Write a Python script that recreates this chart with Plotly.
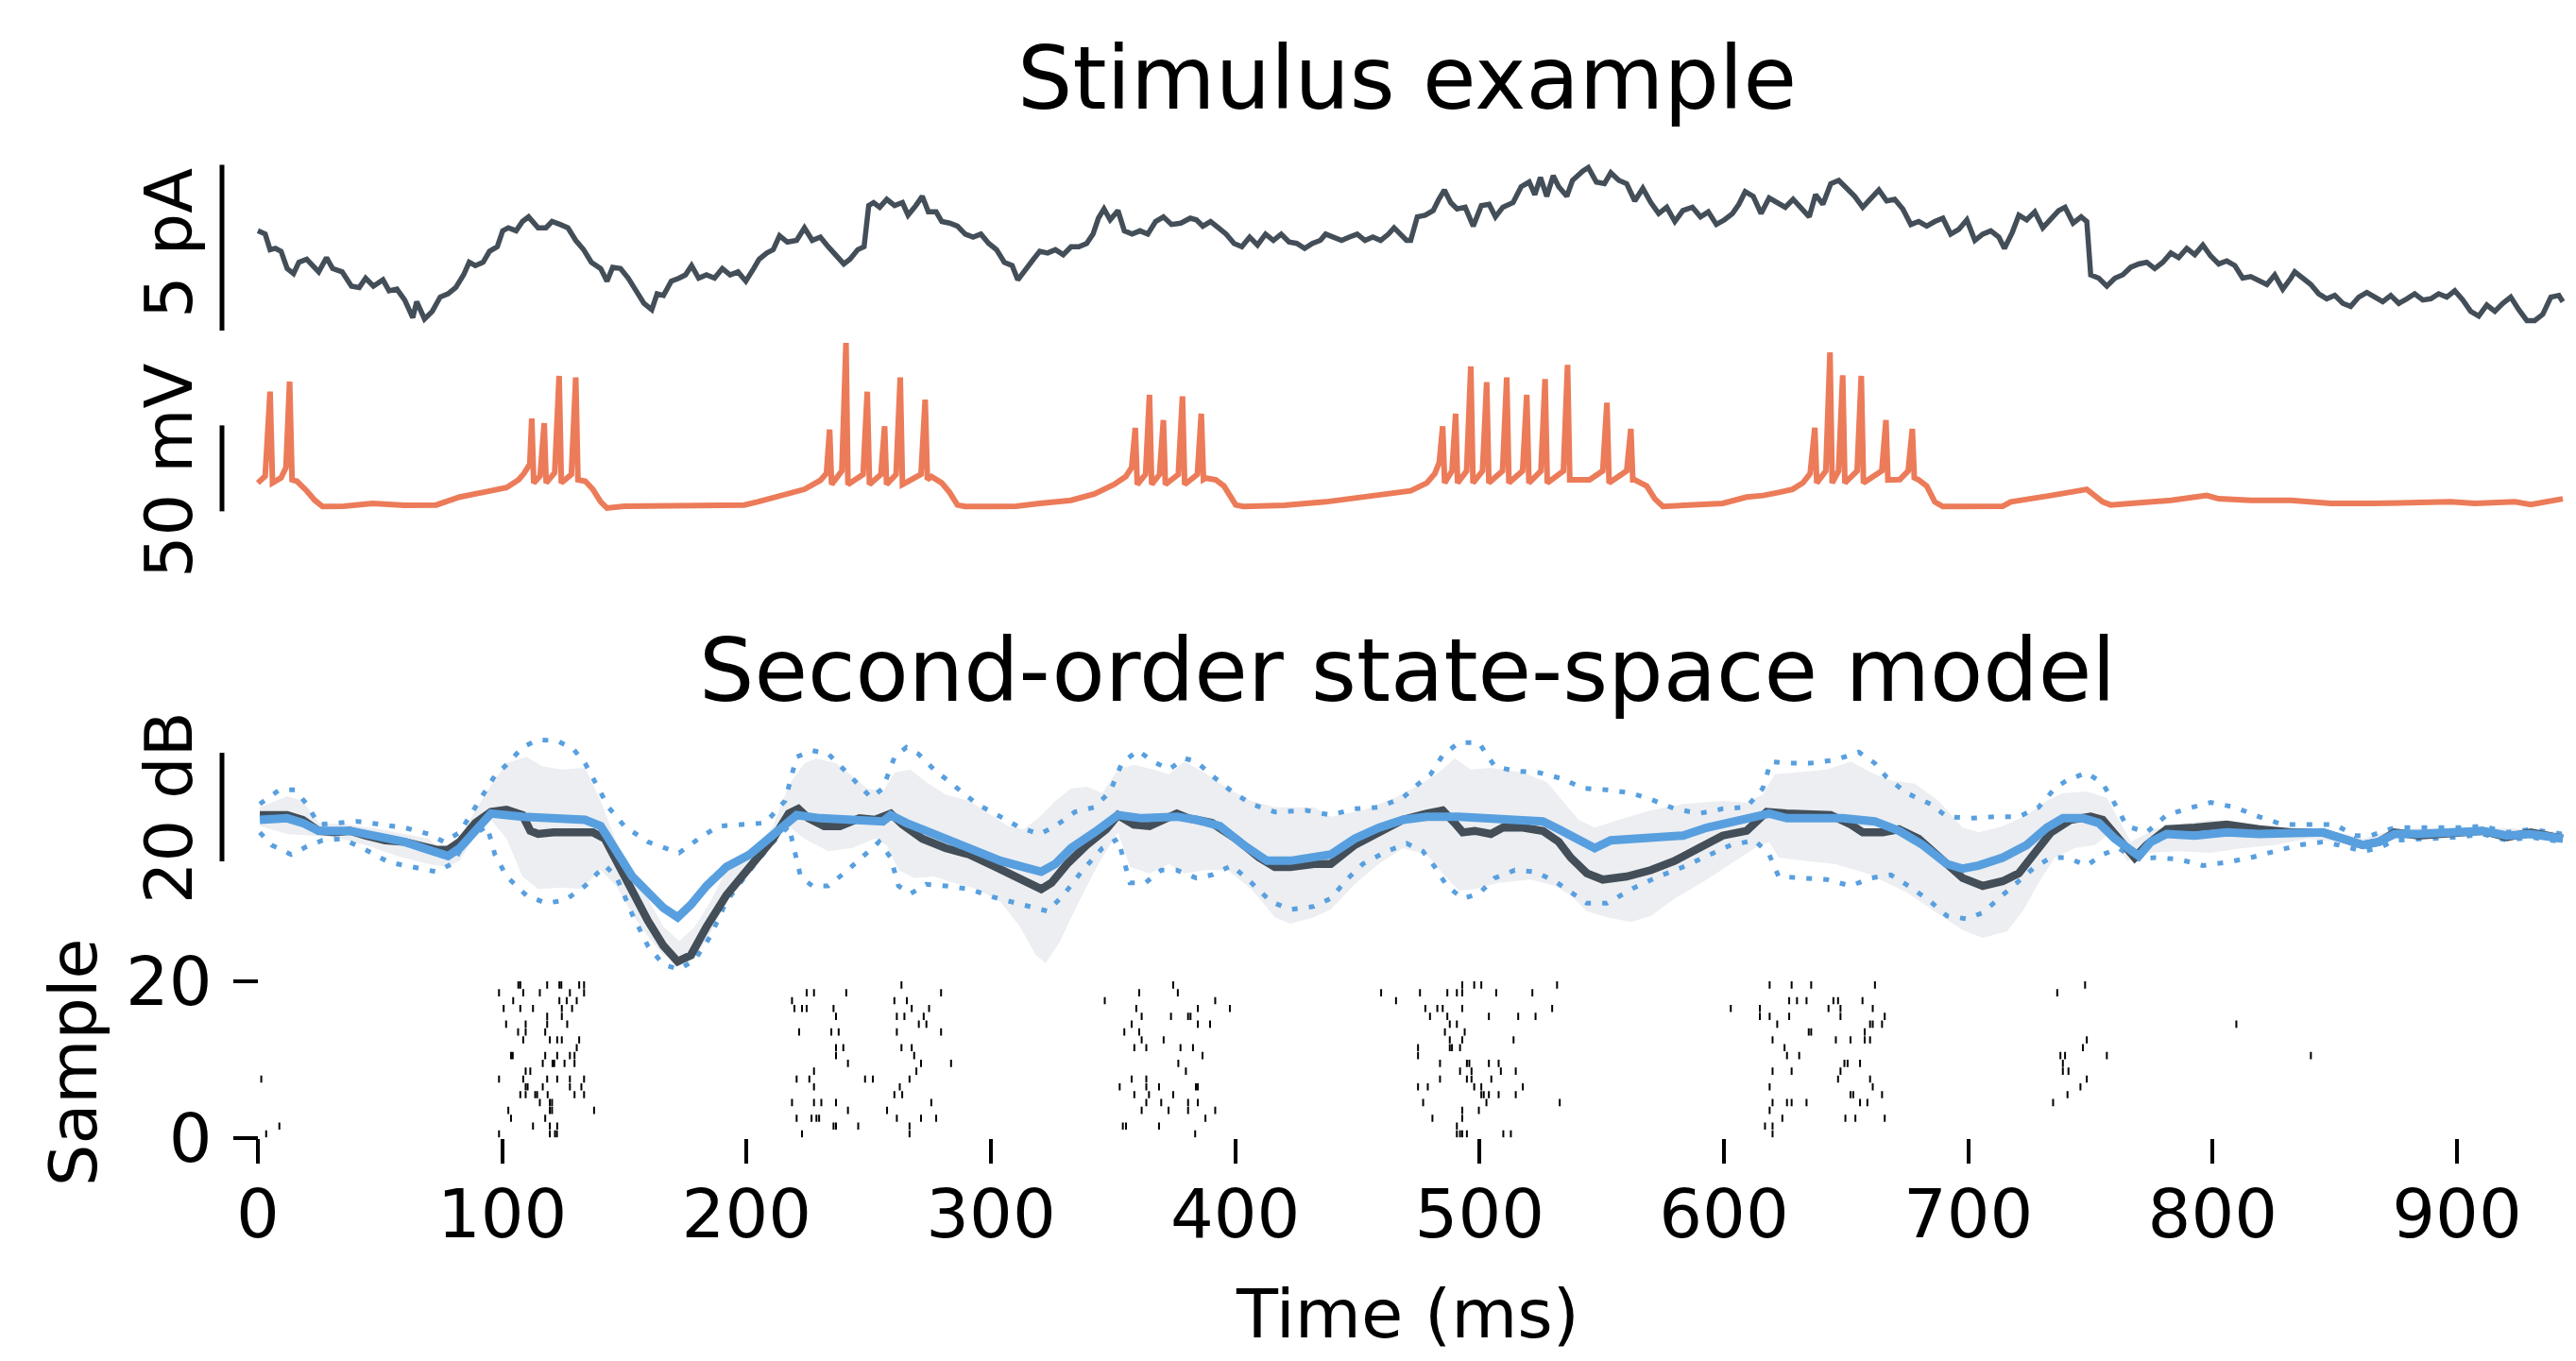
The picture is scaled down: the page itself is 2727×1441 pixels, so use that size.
import plotly.graph_objects as go

# ---------------- data ----------------
# stimulus current (ms, pA)
stim = [(0, 3.01), (3.0, 2.91), (5.0, 2.44), (7.2, 2.48), (9.5, 2.39), (12.0, 1.87), (14.6, 1.72), (16.8, 2.06), (20.0, 2.15), (22.3, 1.96), (24.9, 1.77), (28.1, 2.20), (30.6, 1.87), (34.5, 1.77), (38.3, 1.34), (41.5, 1.30), (44.1, 1.58), (47.3, 1.34), (51.2, 1.53), (53.7, 1.20), (56.9, 1.25), (60.1, 0.92), (63.4, 0.39), (65.0, 0.87), (68.2, 0.35), (71.4, 0.58), (74.6, 1.01), (77.8, 1.11), (81.0, 1.30), (84.2, 1.68), (86.5, 2.06), (89.0, 1.96), (92.2, 2.06), (94.8, 2.39), (98.0, 2.53), (100.2, 3.01), (102.5, 3.10), (105.7, 3.01), (108.3, 3.29), (110.8, 3.43), (114.7, 3.10), (117.9, 3.10), (120.4, 3.29), (123.7, 3.20), (126.9, 3.10), (130.1, 2.72), (133.3, 2.44), (136.5, 2.06), (140.3, 1.87), (142.9, 1.49), (145.2, 1.91), (148.4, 1.87), (151.6, 1.58), (154.8, 1.20), (158.0, 0.82), (161.2, 0.63), (163.4, 1.11), (166.0, 1.06), (169.2, 1.49), (172.4, 1.58), (175.0, 1.68), (177.5, 1.96), (180.4, 1.58), (183.6, 1.68), (186.9, 1.58), (190.1, 1.87), (193.3, 1.68), (196.5, 1.77), (199.7, 1.49), (202.9, 1.87), (205.1, 2.15), (208.3, 2.34), (210.9, 2.44), (213.5, 2.86), (216.7, 2.67), (220.5, 2.72), (223.7, 3.10), (226.9, 2.72), (230.2, 2.82), (233.4, 2.53), (236.6, 2.25), (239.8, 2.01), (242.3, 2.15), (245.5, 2.44), (248.1, 2.53), (250.0, 3.77), (252.0, 3.86), (254.5, 3.72), (257.4, 3.96), (260.6, 3.77), (263.8, 3.86), (266.1, 3.48), (269.3, 3.77), (271.9, 4.05), (274.4, 3.58), (277.6, 3.58), (279.9, 3.29), (283.1, 3.24), (286.3, 3.15), (289.5, 2.91), (292.7, 2.82), (295.9, 2.91), (299.1, 2.63), (302.3, 2.44), (305.5, 2.06), (308.7, 1.96), (311.0, 1.53), (314.2, 1.87), (317.4, 2.15), (320.0, 2.39), (323.2, 2.34), (326.4, 2.44), (329.6, 2.29), (332.8, 2.53), (336.0, 2.53), (339.2, 2.63), (341.8, 2.91), (344.0, 3.39), (346.3, 3.67), (348.8, 3.34), (352.0, 3.62), (354.6, 3.01), (357.8, 2.91), (361.0, 3.01), (364.2, 2.91), (367.4, 3.29), (370.6, 3.43), (373.9, 3.20), (377.7, 3.24), (381.6, 3.39), (384.1, 3.34), (386.7, 3.15), (389.9, 3.29), (393.1, 3.10), (396.3, 2.91), (399.5, 2.63), (402.7, 2.53), (405.9, 2.82), (409.1, 2.58), (412.4, 2.91), (415.6, 2.72), (418.8, 2.91), (422.0, 2.67), (425.2, 2.63), (428.4, 2.48), (431.6, 2.63), (434.8, 2.72), (437.0, 2.91), (440.3, 2.82), (443.5, 2.72), (446.7, 2.82), (449.9, 2.91), (453.1, 2.72), (456.3, 2.82), (459.5, 2.72), (462.7, 2.91), (465.0, 3.10), (467.5, 2.91), (470.1, 2.72),
        (471.8, 2.72), (474.5, 3.43), (477.7, 3.48), (481.0, 3.62), (483.3, 3.96), (485.6, 4.24), (488.2, 3.86), (490.8, 3.67), (494.1, 3.72), (497.4, 3.15), (500.7, 3.77), (503.9, 3.81), (506.5, 3.43), (509.5, 3.72), (513.7, 3.86), (517.0, 4.34), (520.3, 4.48), (522.6, 4.10), (524.9, 4.62), (527.5, 4.05), (530.1, 4.67), (532.4, 4.34), (535.7, 4.05), (538.0, 4.53), (542.2, 4.81), (544.5, 4.92), (547.8, 4.48), (551.1, 4.43), (553.7, 4.76), (557.0, 4.53), (560.2, 4.43), (563.5, 3.91), (566.8, 4.29), (570.1, 3.86), (573.3, 3.53), (576.6, 3.72), (579.9, 3.29), (583.2, 3.62), (587.1, 3.72), (590.4, 3.43), (593.6, 3.58), (596.9, 3.20), (600.2, 3.34), (603.5, 3.53), (606.1, 3.81), (608.7, 4.19), (612.0, 4.05), (615.2, 3.53), (618.5, 4.00), (621.8, 3.86), (625.1, 3.72), (628.3, 3.96), (631.6, 3.72), (634.9, 3.43), (637.5, 4.10), (640.5, 3.81), (643.7, 4.43), (647.0, 4.53), (650.3, 4.29), (653.5, 4.05), (656.8, 3.72), (660.1, 3.96), (663.4, 4.24), (666.6, 3.91), (669.9, 3.96), (673.2, 3.67), (676.5, 3.20), (679.7, 3.29), (683.0, 3.15), (686.3, 3.29), (689.6, 3.39), (692.8, 2.91), (696.1, 3.05), (699.4, 3.34), (702.7, 2.72), (705.9, 2.91), (709.2, 3.01), (712.5, 2.82), (714.8, 2.48), (718.0, 2.96), (720.7, 3.48), (723.9, 3.34), (727.2, 3.58), (730.5, 3.10), (733.8, 3.34), (737.0, 3.62), (739.6, 3.72), (742.9, 3.24), (746.2, 3.43), (748.5, 3.29), (750.1, 1.68), (753.4, 1.58), (756.7, 1.34), (760.0, 1.58), (763.2, 1.68), (766.5, 1.91), (769.8, 2.01), (773.0, 2.06), (776.3, 1.87), (779.6, 2.06), (782.9, 2.34), (786.1, 2.20), (789.4, 2.48), (792.7, 2.29), (796.0, 2.58), (799.2, 2.25), (802.5, 2.01), (805.8, 2.10), (809.1, 1.96), (812.3, 1.58), (815.6, 1.63), (818.9, 1.53), (822.2, 1.39), (825.4, 1.68), (828.7, 1.25), (832.0, 1.58), (833.6, 1.77), (836.9, 1.58), (840.2, 1.39), (843.4, 1.11), (846.7, 0.96), (850.0, 1.06), (853.3, 0.82), (856.5, 0.73), (859.8, 1.01), (863.1, 1.15), (866.4, 1.01), (869.6, 0.87), (872.9, 1.06), (876.2, 0.82), (879.5, 0.96), (882.7, 1.11), (886.0, 0.92), (889.3, 0.96), (892.5, 1.11), (895.8, 1.01), (899.1, 1.20), (902.4, 0.92), (905.6, 0.58), (908.9, 0.44), (912.2, 0.77), (915.5, 0.58), (918.7, 0.82), (922.0, 1.01), (925.3, 0.63), (928.6, 0.30), (931.8, 0.30), (935.1, 0.49), (938.4, 1.01), (941.7, 1.06), (943.3, 0.87)]

# membrane voltage (ms, mV)
volt = [(0.0, -57.0), (3.0, -53.0), (5.0, -3.9), (6.0, -57.0), (9.5, -54.0), (11.5, -48.0), (13.0, 2.0), (14.0, -55.2), (16.0, -56.0), (18.4, -58.8), (20.0, -61.6), (23.3, -67.1), (26.5, -70.7), (35.0, -70.5), (47.0, -68.9), (60.0, -70.0), (73.0, -69.8), (82.6, -65.2), (95.4, -61.6), (101.8, -59.7), (106.7, -55.2), (108.9, -51.5), (111.3, -46.0), (112.1, -19.5), (112.9, -57.0), (115.5, -53.0), (117.2, -22.2), (118.0, -57.0), (121.5, -51.0), (123.3, 5.3), (124.2, -57.0), (128.3, -52.0), (130.1, 4.4), (131.0, -55.2), (134.0, -56.0), (137.1, -60.7), (140.3, -68.0), (142.9, -71.6), (150.0, -70.5), (175.0, -70.5), (199.0, -69.8), (204.5, -68.0), (214.1, -64.3), (223.7, -60.7), (230.2, -55.5), (232.7, -51.5), (234.0, -25.9), (234.8, -57.9), (239.0, -50.0), (240.7, 24.5), (241.5, -57.9), (247.7, -52.0), (249.4, -3.9), (250.3, -57.9), (255.0, -52.0), (256.5, -24.0), (257.3, -57.9), (261.2, -52.0), (262.9, 4.4), (263.8, -57.9), (271.4, -52.0), (273.1, -8.5), (274.0, -55.0), (275.7, -53.3), (279.9, -57.0), (283.1, -62.5), (286.3, -69.8), (289.5, -70.7), (300.0, -70.7), (310.3, -70.5), (320.0, -68.9), (332.8, -67.1), (342.4, -63.4), (350.4, -57.9), (355.2, -53.3), (357.6, -48.0), (359.1, -25.0), (359.9, -57.9), (363.3, -52.0), (364.9, -5.7), (365.8, -57.9), (369.0, -52.0), (370.6, -20.4), (371.4, -57.9), (376.7, -52.0), (378.4, -6.6), (379.3, -57.9), (384.5, -52.0), (386.1, -16.7), (387.0, -55.0), (388.0, -54.2), (392.1, -55.2), (395.4, -58.8), (400.2, -69.8), (403.4, -70.7), (420.0, -70.0), (437.0, -68.0), (450.0, -65.5), (458.7, -64.3), (471.8, -61.6), (478.4, -57.0), (481.7, -51.5), (483.5, -45.0), (484.9, -24.0), (485.7, -57.0), (488.7, -50.0), (490.2, -16.7), (491.0, -57.0), (494.7, -50.0), (496.4, 10.8), (497.3, -57.0), (501.2, -50.0), (502.9, 1.6), (503.8, -57.0), (509.4, -50.0), (511.1, 4.4), (512.0, -57.0), (517.6, -50.0), (519.3, -5.7), (520.2, -57.0), (525.1, -50.0), (526.8, 3.4), (527.7, -57.0), (534.3, -50.0), (536.0, 11.7), (536.9, -55.2), (545.0, -55.2), (550.4, -50.0), (552.1, -10.3), (553.0, -57.0), (560.2, -50.0), (561.9, -25.5), (562.7, -55.2), (563.5, -55.2), (568.4, -58.8), (571.7, -66.2), (575.0, -70.7), (590.0, -70.0), (599.5, -68.9), (609.3, -65.2), (616.0, -64.3), (622.4, -62.5), (628.0, -60.7), (632.3, -57.0), (635.3, -51.5), (637.2, -24.9), (638.0, -57.0), (641.7, -50.0), (643.4, 19.0), (644.3, -57.0), (646.9, -50.0), (648.6, 5.6), (649.5, -57.0), (654.5, -50.0), (656.2, 5.3), (657.1, -57.0), (664.6, -50.0), (666.3, -20.4), (667.1, -55.2), (672.0, -55.0), (675.4, -50.0), (677.1, -25.5), (677.9, -54.0), (679.7, -55.2), (683.0, -58.8), (686.3, -68.0), (689.6, -70.7), (714.1, -70.5), (717.4, -68.0), (733.8, -64.3), (748.5, -60.7), (755.0, -68.0), (758.3, -69.8), (766.5, -68.9), (782.9, -67.1), (797.6, -64.3), (802.5, -66.2), (815.6, -67.1), (832.0, -67.1), (848.4, -68.9), (864.7, -68.9), (897.5, -68.0), (907.3, -68.9), (923.7, -68.0), (930.2, -69.5), (943.3, -66.2)]

# state-space model panel (ms, dB)
data_db = [(0.8, 8.52), (12.0, 8.52), (18.4, 7.65), (24.9, 5.62), (31.3, 5.33), (37.7, 5.62), (44.1, 4.75), (52.1, 3.88), (60.1, 3.59), (66.6, 3.01), (73.0, 2.14), (77.8, 2.14), (82.6, 3.59), (89.0, 7.07), (95.4, 9.10), (101.8, 9.51), (108.3, 8.52), (111.5, 5.62), (114.7, 5.04), (121.1, 5.33), (127.5, 5.33), (137.1, 5.33), (142.0, 4.17), (146.7, 0.11), (153.2, -5.68), (159.6, -10.90), (166.0, -15.54), (171.8, -18.44), (177.2, -17.28), (183.6, -12.06), (191.7, -6.26), (201.3, -1.05), (210.9, 4.17), (217.3, 8.81), (221.2, 9.68), (225.3, 7.94), (231.8, 6.49), (238.2, 6.49), (246.2, 7.94), (252.6, 7.65), (259.0, 8.81), (263.8, 6.78), (271.9, 4.17), (281.5, 2.43), (291.1, 1.27), (300.7, -0.76), (310.3, -2.78), (316.8, -4.52), (320.6, -5.10), (324.8, -3.94), (331.2, -0.47), (339.2, 3.01), (347.2, 5.91), (352.0, 8.52), (358.5, 6.78), (364.9, 6.49), (371.3, 7.94), (376.1, 8.81), (380.9, 7.94), (390.5, 7.07), (400.2, 4.17), (409.8, 0.69), (416.2, -1.05), (422.6, -1.05), (432.2, -0.47),
           (439.1, -0.47), (448.9, 3.01), (458.7, 5.33), (468.6, 7.65), (478.4, 8.81), (484.9, 9.39), (489.8, 7.07), (493.1, 5.33), (498.0, 5.62), (504.6, 5.04), (509.5, 6.20), (517.7, 6.20), (525.9, 5.62), (532.4, 3.59), (537.3, 0.69), (543.9, -2.20), (550.4, -3.36), (560.2, -2.78), (570.1, -1.62), (579.9, 0.11), (589.7, 2.43), (599.5, 4.75), (609.3, 5.62), (617.5, 9.10), (625.7, 8.81), (635.5, 8.52), (643.7, 8.52), (651.9, 6.78), (656.8, 5.33), (665.0, 5.33), (671.6, 5.91), (679.7, 4.17), (687.9, 0.69), (697.7, -3.07), (705.9, -4.52), (714.1, -3.65), (720.7, -2.20), (727.2, 1.27), (733.8, 5.33), (741.9, 7.65), (750.1, 8.23), (755.0, 7.65), (761.6, 4.17), (768.1, 0.69), (773.0, 3.01), (781.2, 5.91), (792.7, 6.20), (805.8, 6.78), (818.9, 5.91), (832.0, 5.33), (845.1, 5.33), (854.9, 4.17), (861.5, 3.01), (868.0, 3.59), (874.5, 5.33), (884.4, 4.75), (897.5, 5.33), (910.5, 5.62), (920.4, 4.46), (930.2, 5.33), (943.3, 4.17)]

model_db = [(0.8, 7.65), (12.0, 7.94), (18.4, 7.07), (24.9, 5.62), (37.7, 5.62), (44.1, 5.04), (52.1, 4.17), (60.1, 3.59), (69.8, 2.14), (77.8, 0.98), (82.6, 2.43), (89.0, 5.91), (95.4, 8.81), (108.3, 8.23), (121.1, 7.94), (133.9, 7.65), (140.3, 6.49), (146.7, 1.85), (153.2, -2.78), (159.6, -5.68), (166.0, -8.58), (171.8, -10.32), (177.2, -8.00), (183.6, -4.52), (191.7, -1.05), (201.3, 1.27), (210.9, 4.75), (220.5, 8.52), (230.2, 7.94), (243.0, 7.65), (255.8, 7.36), (259.0, 8.52), (265.4, 7.07), (275.1, 5.33), (284.7, 3.59), (294.3, 1.56), (303.9, 0.11), (313.5, -1.05), (320.6, -1.91), (326.4, -0.47), (332.8, 2.43), (342.4, 5.33), (352.0, 8.52), (361.7, 7.94), (371.3, 7.94), (376.1, 8.23), (384.1, 7.65), (393.7, 6.49), (403.4, 3.01), (413.0, 0.11), (422.6, 0.11), (432.2, 0.69),
            (439.1, 1.27), (448.9, 4.17), (458.7, 6.20), (468.6, 7.65), (478.4, 8.23), (491.5, 8.23), (504.6, 7.94), (517.7, 7.65), (525.9, 7.36), (532.4, 5.91), (540.6, 4.17), (547.1, 2.43), (553.7, 3.88), (563.5, 4.17), (573.3, 4.46), (583.2, 4.75), (593.0, 6.20), (602.8, 7.07), (612.6, 7.94), (618.5, 8.81), (625.7, 7.94), (635.5, 7.94), (648.6, 7.94), (661.7, 7.36), (671.6, 5.62), (681.4, 3.01), (691.2, -0.47), (697.7, -1.34), (704.3, -0.76), (714.1, 0.69), (723.9, 3.01), (732.1, 6.20), (738.7, 7.94), (746.9, 7.94), (753.4, 7.07), (760.0, 4.17), (766.5, 1.85), (769.8, 0.98), (774.7, 3.59), (781.2, 5.04), (792.7, 4.75), (805.8, 5.33), (818.9, 5.04), (832.0, 5.04), (845.1, 5.33), (853.3, 4.17), (861.5, 3.01), (868.0, 3.59), (874.5, 5.04), (884.4, 5.04), (897.5, 5.33), (910.5, 5.62), (920.4, 4.75), (930.2, 5.04), (943.3, 4.17)]

model_upper = [(0.8, 10.55), (8.8, 13.16), (15.2, 13.16), (20.0, 10.55), (24.9, 6.78), (31.3, 7.07), (40.9, 7.36), (50.5, 6.78), (60.1, 6.20), (69.8, 5.04), (76.2, 3.59), (82.6, 5.33), (90.6, 11.13), (97.0, 15.77), (101.8, 17.80), (108.3, 20.98), (114.7, 22.43), (122.7, 22.14), (129.1, 20.69), (133.9, 18.08), (138.7, 14.03), (143.5, 9.97), (150.0, 6.49), (159.6, 3.59), (172.4, 1.56), (180.4, 4.17), (188.5, 6.49), (198.1, 6.78), (207.7, 7.07), (215.7, 11.13), (220.5, 19.24), (226.9, 20.40), (233.4, 19.82), (239.8, 16.93), (246.2, 14.03), (251.0, 11.71), (255.8, 13.45), (260.6, 19.24), (265.4, 20.98), (270.2, 19.82), (276.7, 16.93), (284.7, 14.03), (294.3, 10.55), (303.9, 8.23), (311.9, 6.20), (320.0, 5.04), (326.4, 6.49), (334.4, 9.10), (342.4, 9.97), (348.8, 12.87), (353.6, 18.08), (360.1, 20.40), (366.5, 18.37), (372.9, 16.93), (379.3, 18.95), (384.1, 18.37), (390.5, 15.77), (398.6, 12.87), (406.6, 10.55), (416.2, 9.10), (429.0, 9.39),
               (439.1, 8.52), (448.9, 9.68), (458.7, 9.97), (468.6, 11.71), (475.1, 14.32), (480.0, 16.06), (484.9, 19.53), (491.5, 21.85), (499.7, 21.85), (506.2, 17.51), (514.4, 16.64), (524.2, 16.35), (534.0, 15.19), (542.2, 13.45), (552.1, 13.16), (561.9, 12.58), (570.1, 11.42), (579.9, 9.68), (589.7, 8.81), (599.5, 9.68), (609.3, 9.97), (615.9, 13.45), (619.2, 18.37), (625.7, 18.08), (635.5, 18.08), (645.4, 18.66), (655.2, 20.11), (661.7, 18.08), (666.6, 15.48), (674.8, 12.58), (684.6, 10.55), (691.2, 8.23), (701.0, 7.94), (710.8, 8.23), (720.7, 8.23), (728.8, 9.97), (735.4, 13.45), (740.3, 14.90), (748.5, 16.35), (755.0, 14.32), (759.3, 11.13), (764.9, 6.49), (773.0, 5.33), (781.2, 8.52), (789.4, 9.68), (799.2, 10.84), (809.1, 9.97), (818.9, 8.23), (828.7, 6.78), (838.5, 6.78), (850.0, 6.78), (858.2, 4.75), (864.7, 4.75), (874.5, 6.20), (887.7, 6.20), (900.7, 6.20), (910.5, 6.49), (920.4, 5.33), (930.2, 5.91), (943.3, 5.04)]

model_lower = [(0.8, 5.33), (5.6, 3.01), (13.6, 1.27), (20.0, 2.72), (26.5, 3.88), (34.5, 4.17), (44.1, 2.14), (53.7, -0.18), (63.4, -1.05), (73.0, -1.91), (79.4, -0.47), (85.8, 4.17), (93.8, 6.49), (97.0, 1.27), (101.8, -2.78), (109.9, -6.26), (117.9, -7.71), (125.9, -7.13), (133.9, -4.52), (142.0, -0.76), (146.7, -2.78), (153.2, -9.74), (159.6, -15.54), (166.0, -19.02), (172.4, -19.89), (178.8, -18.15), (185.2, -13.80), (191.7, -7.42), (201.3, -1.62), (210.9, 3.59), (217.3, 6.49), (222.1, -2.78), (226.9, -4.52), (233.4, -4.52), (241.4, -1.62), (247.8, 0.98), (254.2, 3.59), (259.0, 0.69), (262.2, -4.52), (267.0, -5.97), (273.5, -4.23), (281.5, -4.52), (291.1, -5.10), (300.7, -6.55), (310.3, -7.71), (316.8, -8.58), (323.2, -9.16), (329.6, -6.26), (337.6, -1.62), (345.6, 2.43), (352.0, 4.17), (356.9, -3.94), (363.3, -3.94), (369.7, -1.62), (376.1, -1.62), (384.1, -3.07), (390.5, -2.49), (398.6, -0.76), (406.6, -3.94), (414.6, -7.42), (422.6, -8.87), (432.2, -8.29),
               (439.1, -6.84), (445.6, -3.36), (452.2, -0.47), (462.0, 1.85), (470.2, 3.30), (476.8, 1.85), (481.7, -1.05), (486.6, -4.52), (493.1, -6.84), (499.7, -5.97), (506.2, -3.07), (514.4, -1.62), (522.6, -1.91), (530.8, -3.65), (537.3, -5.68), (543.9, -7.71), (552.1, -7.71), (563.5, -4.81), (573.3, -2.78), (583.2, -1.05), (593.0, 0.98), (602.8, 3.01), (612.6, 3.88), (618.5, 1.27), (622.4, -2.78), (632.3, -3.07), (642.1, -3.36), (651.9, -4.52), (660.1, -3.07), (668.3, -2.49), (676.5, -4.81), (684.6, -7.42), (691.2, -10.03), (699.4, -10.61), (705.9, -9.45), (712.5, -6.84), (719.0, -4.23), (727.2, -1.05), (733.8, 0.69), (740.3, 0.69), (748.5, -0.76), (755.0, 1.27), (761.6, 2.43), (768.1, 0.40), (776.3, 0.69), (786.1, 0.40), (796.0, -0.76), (805.8, -0.18), (815.6, 0.69), (825.4, 1.85), (835.3, 3.01), (845.1, 3.59), (851.6, 3.01), (861.5, 1.85), (868.0, 2.43), (874.5, 3.88), (887.7, 4.17), (900.7, 4.46), (910.5, 5.04), (920.4, 3.88), (930.2, 4.46), (943.3, 3.59)]

data_band_upper = [(0.8, 9.97), (12.0, 12.00), (18.4, 11.13), (24.9, 7.07), (37.7, 6.78), (53.7, 5.62), (69.8, 4.17), (77.8, 1.27), (82.6, 4.17), (89.0, 9.39), (95.4, 14.03), (101.8, 18.08), (109.9, 19.24), (116.3, 17.51), (124.3, 16.93), (133.9, 17.22), (140.3, 11.13), (146.7, 3.59), (153.2, -2.78), (159.6, -6.84), (166.0, -12.06), (172.4, -14.67), (178.8, -12.06), (185.2, -7.42), (191.7, -1.62), (201.3, 1.27), (210.9, 6.49), (217.3, 14.03), (223.7, 18.08), (228.6, 18.95), (236.6, 18.08), (243.0, 15.77), (249.4, 13.45), (255.8, 12.87), (260.6, 16.35), (267.0, 16.93), (273.5, 14.61), (281.5, 12.29), (291.1, 11.13), (299.1, 8.81), (307.1, 6.49), (313.5, 5.91), (320.0, 8.23), (326.4, 11.13), (332.8, 13.45), (339.2, 13.74), (345.6, 12.58), (352.0, 16.93), (358.5, 17.80), (366.5, 16.93), (372.9, 16.06), (379.3, 18.37), (387.3, 16.35), (396.9, 13.45), (406.6, 11.13), (416.2, 9.97), (432.2, 9.97),
                   (439.1, 8.23), (452.2, 9.39), (465.3, 11.71), (475.1, 14.03), (483.3, 16.35), (489.8, 18.95), (496.4, 16.93), (504.6, 17.22), (517.7, 16.35), (527.5, 14.61), (534.0, 11.13), (540.6, 7.65), (547.1, 6.20), (557.0, 7.65), (570.1, 9.39), (583.2, 10.55), (599.5, 11.13), (609.3, 10.84), (615.9, 12.29), (620.8, 16.06), (629.0, 16.35), (642.1, 16.93), (651.9, 18.37), (661.7, 16.06), (668.3, 14.90), (678.1, 14.32), (687.9, 11.13), (697.7, 6.20), (704.3, 5.33), (714.1, 6.49), (723.9, 8.52), (732.1, 11.13), (738.7, 12.58), (748.5, 12.87), (756.7, 11.71), (761.6, 7.65), (766.5, 3.59), (776.3, 5.91), (789.4, 7.07), (799.2, 7.65), (812.3, 7.07), (825.4, 6.49), (838.5, 5.91), (851.6, 5.33), (861.5, 4.17), (874.5, 5.91), (897.5, 6.20), (913.8, 6.20), (930.2, 5.91), (943.3, 5.33)]

data_band_lower = [(0.8, 6.49), (12.0, 5.04), (21.7, 4.75), (31.3, 4.46), (44.1, 3.01), (56.9, 0.98), (69.8, -0.47), (77.8, -1.05), (82.6, 0.11), (89.0, 4.75), (95.4, 7.65), (101.8, 4.17), (108.3, -2.78), (114.7, -5.10), (124.3, -4.81), (132.3, -5.10), (140.3, -1.62), (146.7, -4.52), (153.2, -9.74), (159.6, -13.80), (166.0, -17.28), (172.4, -19.02), (178.8, -17.86), (185.2, -13.22), (191.7, -7.42), (201.3, -1.62), (210.9, 4.17), (217.3, 6.49), (223.7, 4.17), (233.4, 1.85), (243.0, 2.43), (252.6, 4.17), (257.4, 3.01), (262.2, -1.62), (268.6, -3.07), (276.7, -2.78), (284.7, -3.94), (294.3, -5.10), (303.9, -7.42), (311.9, -12.06), (318.4, -17.28), (322.5, -18.73), (328.0, -14.96), (336.0, -7.42), (344.0, -0.47), (352.0, 5.33), (356.9, -1.05), (364.9, -2.20), (372.9, -0.47), (379.3, -2.20), (387.3, -1.62), (396.9, -1.62), (406.6, -5.10), (416.2, -10.32), (422.6, -11.48), (432.2, -10.32),
                   (439.1, -8.87), (448.9, -4.23), (458.7, -0.47), (468.6, 2.43), (478.4, 1.27), (484.9, -2.20), (491.5, -5.39), (498.0, -5.10), (507.9, -3.94), (521.0, -3.36), (530.8, -4.52), (537.3, -6.26), (543.9, -9.16), (552.1, -10.32), (561.9, -11.19), (570.1, -10.03), (579.9, -6.84), (593.0, -3.36), (602.8, -0.47), (612.6, 2.43), (618.5, 3.59), (622.4, 0.69), (632.3, 0.11), (645.4, -0.47), (658.5, -2.20), (674.8, -5.68), (687.9, -9.74), (697.7, -12.64), (705.9, -14.09), (715.8, -12.93), (722.3, -9.16), (728.8, -3.94), (735.4, 0.69), (743.6, 2.43), (751.8, 3.01), (758.3, 5.33), (764.9, 0.11), (773.0, 1.56), (786.1, 1.85), (799.2, 1.56), (812.3, 2.43), (825.4, 3.01), (838.5, 4.17), (851.6, 3.59), (861.5, 2.14), (874.5, 4.17), (897.5, 4.75), (913.8, 5.04), (930.2, 4.46), (943.3, 3.88)]

# spike raster: spike times (ms) for each of the 20 samples (index = sample)
raster = [
    [3.4, 98.7, 119.5, 121.6, 122.4, 222.7, 266.7, 383.6, 490.7, 492.0, 492.9, 494.8, 509.7, 512.8, 619.9],
    [8.8, 112.6, 119.5, 122.5, 235.6, 236.6, 245.7, 266.7, 354.0, 355.3, 368.8, 490.7, 616.8, 619.9],
    [103.6, 117.6, 220.5, 226.6, 228.6, 229.7, 261.5, 271.4, 277.6, 387.8, 480.7, 492.9, 623.9, 649.7, 653.8, 665.8],
    [102.5, 119.5, 120.4, 137.6, 241.5, 257.5, 361.7, 372.7, 380.7, 391.8, 492.9, 499.7, 618.7],
    [115.4, 119.5, 120.4, 218.6, 227.6, 230.6, 236.6, 275.6, 363.6, 369.7, 380.7, 384.7, 476.9, 502.8, 532.8, 619.9, 625.8, 627.7, 633.8, 655.7, 658.7, 734.7],
    [107.4, 109.6, 113.5, 114.3, 118.6, 129.6, 133.5, 260.5, 263.7, 358.7, 364.7, 374.6, 500.7, 501.7, 503.8, 507.8, 514.8, 651.8, 652.9, 664.7, 740.6],
    [109.6, 110.4, 116.6, 127.7, 132.4, 227.6, 262.7, 352.7, 363.6, 368.8, 383.9, 384.7, 474.8, 478.8, 497.8, 500.7, 517.7, 618.7, 660.9, 745.9],
    [1.4, 98.7, 108.6, 118.4, 122.5, 127.7, 133.5, 220.5, 225.7, 248.5, 251.7, 266.7, 357.6, 363.6, 483.8, 494.8, 496.7, 504.8, 646.7, 659.8, 748.5],
    [109.6, 111.5, 227.6, 269.5, 379.8, 492.0, 496.7, 508.7, 514.8, 619.9, 627.7, 647.7, 738.7, 741.0],
    [116.6, 120.6, 121.3, 125.5, 129.6, 241.5, 271.4, 283.7, 376.7, 483.8, 494.8, 495.8, 503.8, 507.8, 649.3, 650.6, 655.7, 738.7],
    [103.6, 104.3, 117.6, 122.5, 127.7, 129.6, 236.6, 268.6, 386.6, 474.8, 625.8, 630.8, 737.7, 739.6, 756.7, 840.2],
    [130.5, 236.6, 239.6, 263.4, 267.6, 358.7, 363.6, 377.6, 382.7, 474.8, 487.8, 488.7, 492.0, 624.8, 746.9],
    [108.6, 119.5, 122.5, 124.4, 131.5, 361.7, 370.7, 487.8, 492.9, 513.9, 619.9, 645.8, 651.8, 657.6, 659.8, 748.5],
    [106.5, 109.6, 117.6, 221.5, 234.7, 237.7, 261.5, 279.6, 354.6, 360.7, 485.8, 493.9, 634.7, 635.7, 657.6],
    [101.6, 109.6, 118.4, 126.6, 270.5, 273.6, 357.6, 384.7, 389.7, 487.8, 490.7, 621.8, 659.8, 660.9, 664.7, 809.7],
    [118.4, 124.4, 236.6, 261.5, 264.6, 272.5, 361.7, 373.7, 380.7, 381.7, 479.7, 486.8, 503.8, 515.8, 522.9, 614.7, 618.7, 626.7, 647.7, 665.8],
    [100.6, 107.4, 112.6, 124.4, 128.6, 219.6, 222.7, 224.6, 235.6, 267.6, 274.7, 359.5, 384.7, 397.8, 477.8, 482.7, 484.9, 492.9, 529.7, 602.8, 614.7, 642.8, 647.7, 660.9],
    [104.5, 123.4, 126.4, 130.5, 218.6, 260.5, 265.6, 346.6, 391.8, 465.8, 626.7, 629.9, 633.8, 644.8, 646.7, 656.7],
    [98.7, 108.6, 115.4, 127.7, 133.5, 224.6, 227.6, 240.8, 279.6, 360.7, 376.5, 459.7, 475.6, 486.8, 490.7, 492.9, 506.8, 521.6, 736.4],
    [106.6, 107.4, 118.4, 123.4, 124.2, 131.5, 133.5, 263.4, 374.6, 492.9, 497.8, 500.7, 531.7, 618.7, 627.7, 635.7, 661.8, 747.8],
]

x_ticks = [0, 100, 200, 300, 400, 500, 600, 700, 800, 900]
raster_ticks = [0, 20]

# ---------------- styling / layout ----------------
W, H = 2727, 1441
FONT = "DejaVu Sans"
C_DARK = "#434e58"
C_ORANGE = "#ec7b59"
C_BLUE = "#589fdf"
C_BAND = "#eceef1"


def px(p):
    return p / W


def py(p):
    return 1 - p / H


def unzip(pairs):
    return [a for a, _ in pairs], [b for _, b in pairs]


fig = go.Figure()

st_t, st_v = unzip(stim)
fig.add_trace(go.Scatter(x=st_t, y=st_v, mode="lines", line=dict(color=C_DARK, width=5.5),
                         xaxis="x", yaxis="y", showlegend=False))

vt, vv = unzip(volt)
fig.add_trace(go.Scatter(x=vt, y=vv, mode="lines", line=dict(color=C_ORANGE, width=6),
                         xaxis="x", yaxis="y2", showlegend=False))

bu_t, bu_v = unzip(data_band_upper)
bl_t, bl_v = unzip(data_band_lower)
fig.add_trace(go.Scatter(x=bu_t + bl_t[::-1], y=bu_v + bl_v[::-1], mode="lines", fill="toself",
                         fillcolor=C_BAND, line=dict(width=0, color=C_BAND),
                         xaxis="x", yaxis="y3", showlegend=False))

for series in (model_upper, model_lower):
    t, v = unzip(series)
    fig.add_trace(go.Scatter(x=t, y=v, mode="lines", line=dict(color=C_BLUE, width=5, dash="6px,12px"),
                             xaxis="x", yaxis="y3", showlegend=False))

dt, dv = unzip(data_db)
fig.add_trace(go.Scatter(x=dt, y=dv, mode="lines", line=dict(color=C_DARK, width=8.5),
                         xaxis="x", yaxis="y3", showlegend=False))
mt, mv = unzip(model_db)
fig.add_trace(go.Scatter(x=mt, y=mv, mode="lines", line=dict(color=C_BLUE, width=9),
                         xaxis="x", yaxis="y3", showlegend=False))

rx, ry = [], []
for sample, times in enumerate(raster):
    for t in times:
        rx += [t, t, None]
        ry += [sample + 0.04, sample + 0.96, None]
fig.add_trace(go.Scatter(x=rx, y=ry, mode="lines", line=dict(color="black", width=2),
                         xaxis="x", yaxis="y4", showlegend=False))

# geometry (pixel positions of the panels)
x_dom = [px(259.8), px(2712.0)]
tickfont = dict(family=FONT, size=72, color="black")

fig.update_layout(
    template="none",
    width=W, height=H,
    margin=dict(l=0, r=0, t=0, b=0, pad=0, autoexpand=False),
    paper_bgcolor="white", plot_bgcolor="white",
    font=dict(family=FONT, color="black"),
    xaxis=dict(domain=x_dom, range=[-2, 946], anchor="y4", automargin=False, showgrid=False,
               zeroline=False, showline=False, ticks="outside", ticklen=26, tickwidth=4,
               tickcolor="black", tickmode="array", tickvals=x_ticks,
               ticktext=[str(v) for v in x_ticks], tickfont=tickfont, ticklabelstandoff=-8),
    yaxis=dict(domain=[py(343), py(150)], range=[-0.0285, 5.47], visible=False, anchor="x",
               automargin=False),
    yaxis2=dict(domain=[py(545), py(345)], range=[-79.89, 30.0], visible=False, anchor="x",
                automargin=False),
    yaxis3=dict(domain=[py(1025), py(760)], range=[-21.04, 25.04], visible=False, anchor="x",
                automargin=False),
    yaxis4=dict(domain=[py(1196.7), py(1025)], range=[0, 20.69], anchor="free", position=px(265),
                automargin=False, showgrid=False, zeroline=False, showline=False, ticks="outside",
                ticklen=26, tickwidth=4, tickcolor="black", tickmode="array",
                tickvals=raster_ticks, ticktext=[str(v) for v in raster_ticks], tickfont=tickfont,
                ticklabelstandoff=8),
)

# scale bars
bar_x = px(227)
for yref, y0, y1 in (("y", 0, 5), ("y2", -73.5, -23.5), ("y3", 0, 20)):
    fig.add_shape(type="line", xref="paper", yref=yref, x0=bar_x, x1=bar_x, y0=y0, y1=y1,
                  line=dict(color="black", width=5))

ann = [
    dict(text="Stimulus example", x=px(1482), y=py(76), size=92, angle=0),
    dict(text="Second-order state-space model", x=px(1482), y=py(702), size=92, angle=0),
    dict(text="5 pA", x=px(171), y=py(250), size=70, angle=-90),
    dict(text="50 mV", x=px(171), y=py(490), size=70, angle=-90),
    dict(text="20 dB", x=px(171), y=py(847), size=70, angle=-90),
    dict(text="Sample", x=px(70), y=py(1117), size=70, angle=-90),
    dict(text="Time (ms)", x=px(1482), y=py(1383), size=72, angle=0),
]
for a in ann:
    fig.add_annotation(text=a["text"], x=a["x"], y=a["y"], xref="paper", yref="paper",
                       showarrow=False, xanchor="center", yanchor="middle", textangle=a["angle"],
                       font=dict(family=FONT, size=a["size"], color="black"))

fig.write_html("out.html")
